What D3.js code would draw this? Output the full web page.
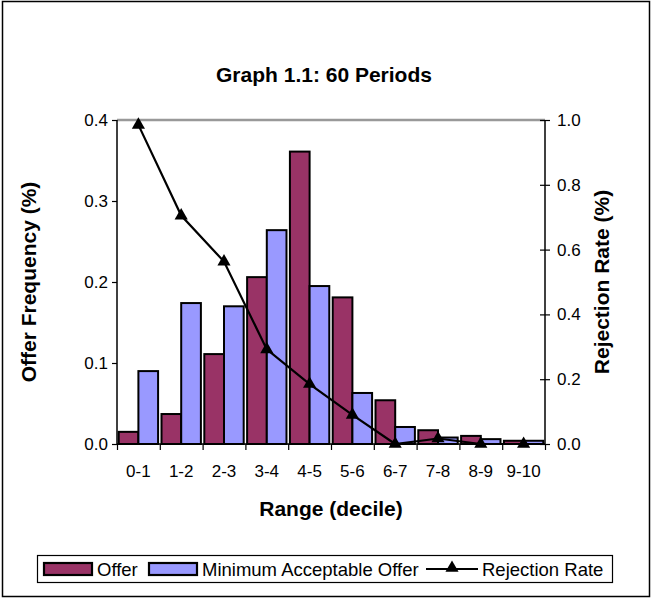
<!DOCTYPE html>
<html><head><meta charset="utf-8">
<script src="https://cdn.jsdelivr.net/npm/d3@7"></script>
<style>body{margin:0;background:#fff}svg{display:block}text{font-family:"Liberation Sans",Arial,sans-serif}</style>
</head><body>
<script>
const categories = ["0-1","1-2","2-3","3-4","4-5","5-6","6-7","7-8","8-9","9-10"];
const offer = [0.015,0.037,0.111,0.206,0.361,0.181,0.054,0.017,0.010,0.004];
const minAcceptable = [0.090,0.174,0.170,0.264,0.195,0.063,0.021,0.008,0.006,0.004];
const rejectionRate = [0.985,0.705,0.563,0.292,0.185,0.090,0.0,0.017,0.0,0.0];
const leftTicks = [0,0.1,0.2,0.3,0.4];
const rightTicks = [0,0.2,0.4,0.6,0.8,1.0];
const legendLabels = ["Offer","Minimum Acceptable Offer","Rejection Rate"];

const W=652,H=599;
const L=117,R=545,T=120,B=444;
const svg=d3.select("body").append("svg").attr("width",W).attr("height",H);
svg.append("rect").attr("x",2.5).attr("y",1.5).attr("width",647).attr("height",595)
  .attr("fill","#fff").attr("stroke","#000").attr("stroke-width",1.5);

svg.append("text").attr("x",324).attr("y",82).attr("text-anchor","middle")
  .style("font-weight","bold").style("font-size","21px").text("Graph 1.1: 60 Periods");

const x=d3.scaleBand().domain(categories).range([L,R]).paddingInner(0.08).paddingOuter(0.04);
const xs=d3.scaleBand().domain(["offer","mao"]).range([0,x.bandwidth()]);
const yL=d3.scaleLinear().domain([0,0.4]).range([B,T]);
const yR=d3.scaleLinear().domain([0,1]).range([B,T]);

svg.append("line").attr("x1",L).attr("x2",R).attr("y1",yL(0.4)).attr("y2",yL(0.4))
  .attr("stroke","#999").attr("stroke-width",2.5);

const g=svg.append("g");
categories.forEach((c,i)=>{
  g.append("rect").attr("x",x(c)+xs("offer")).attr("y",yL(offer[i]))
   .attr("width",xs.bandwidth()).attr("height",yL(0)-yL(offer[i]))
   .attr("fill","#993366").attr("stroke","#000").attr("stroke-width",2);
  g.append("rect").attr("x",x(c)+xs("mao")).attr("y",yL(minAcceptable[i]))
   .attr("width",xs.bandwidth()).attr("height",yL(0)-yL(minAcceptable[i]))
   .attr("fill","#9999FF").attr("stroke","#000").attr("stroke-width",2);
});

const axL=svg.append("g").attr("transform",`translate(${L},0)`)
  .call(d3.axisLeft(yL).tickValues(leftTicks).tickFormat(d3.format(".1f")).tickSize(5).tickPadding(4));
const axR=svg.append("g").attr("transform",`translate(${R},0)`)
  .call(d3.axisRight(yR).tickValues(rightTicks).tickFormat(d3.format(".1f")).tickSize(5).tickPadding(7));
axR.selectAll(".tick line").attr("x1",-5);
const xb=d3.scaleLinear().domain([0,categories.length]).range([L,R]);
const axB=svg.append("g").attr("transform",`translate(0,${B})`)
  .call(d3.axisBottom(xb).tickValues(d3.range(0,categories.length+1)).tickFormat("").tickSize(6));
[axL,axR,axB].forEach(a=>{
  a.select(".domain").attr("stroke","#000").attr("stroke-width",1.5);
  a.selectAll(".tick line").attr("stroke","#000").attr("stroke-width",1.2);
  a.selectAll("text").style("font-size","17px").attr("fill","#000");
});
axB.select(".domain").attr("d",`M${L},0H${R}`);
axL.select(".domain").attr("d",`M0,${T}V${B}`);
axR.select(".domain").attr("d",`M0,${T}V${B}`);

svg.append("g").selectAll("text").data(categories).join("text")
  .attr("x",d=>x(d)+x.bandwidth()/2).attr("y",477).attr("text-anchor","middle")
  .style("font-size","17px").text(d=>d);

const line=d3.line().x((d,i)=>x(categories[i])+x.bandwidth()/2).y(d=>yR(d));
svg.append("path").datum(rejectionRate).attr("d",line).attr("fill","none")
  .attr("stroke","#000").attr("stroke-width",2.2);
const tri=d3.symbol().type(d3.symbolTriangle).size(75);
svg.append("g").selectAll("path").data(rejectionRate).join("path")
  .attr("transform",(d,i)=>`translate(${x(categories[i])+x.bandwidth()/2},${yR(d)})`)
  .attr("d",tri).attr("fill","#000");

svg.append("text").attr("transform",`translate(36,${(T+B)/2}) rotate(-90)`).attr("text-anchor","middle")
  .style("font-weight","bold").style("font-size","21px").text("Offer Frequency (%)");
svg.append("text").attr("transform",`translate(609,${(T+B)/2}) rotate(-90)`).attr("text-anchor","middle")
  .style("font-weight","bold").style("font-size","21px").text("Rejection Rate (%)");
svg.append("text").attr("x",331).attr("y",516).attr("text-anchor","middle")
  .style("font-weight","bold").style("font-size","21px").text("Range (decile)");

// legend
const lg=svg.append("g");
lg.append("rect").attr("x",37.5).attr("y",555.5).attr("width",575).attr("height",27)
  .attr("fill","#fff").attr("stroke","#000").attr("stroke-width",1.2);
const sw=[{x:44,c:"#993366"},{x:149,c:"#9999FF"}];
sw.forEach(s=>lg.append("rect").attr("x",s.x).attr("y",563).attr("width",48).attr("height",12)
  .attr("fill",s.c).attr("stroke","#000").attr("stroke-width",2.2));
lg.append("line").attr("x1",426).attr("x2",478).attr("y1",569).attr("y2",569).attr("stroke","#000").attr("stroke-width",2.2);
lg.append("path").attr("transform","translate(452,568)").attr("d",tri).attr("fill","#000");
const tx=[97,202,482];
legendLabels.forEach((t,i)=>lg.append("text").attr("x",tx[i]).attr("y",575.5).style("font-size","18.5px").text(t));
</script>
</body></html>
